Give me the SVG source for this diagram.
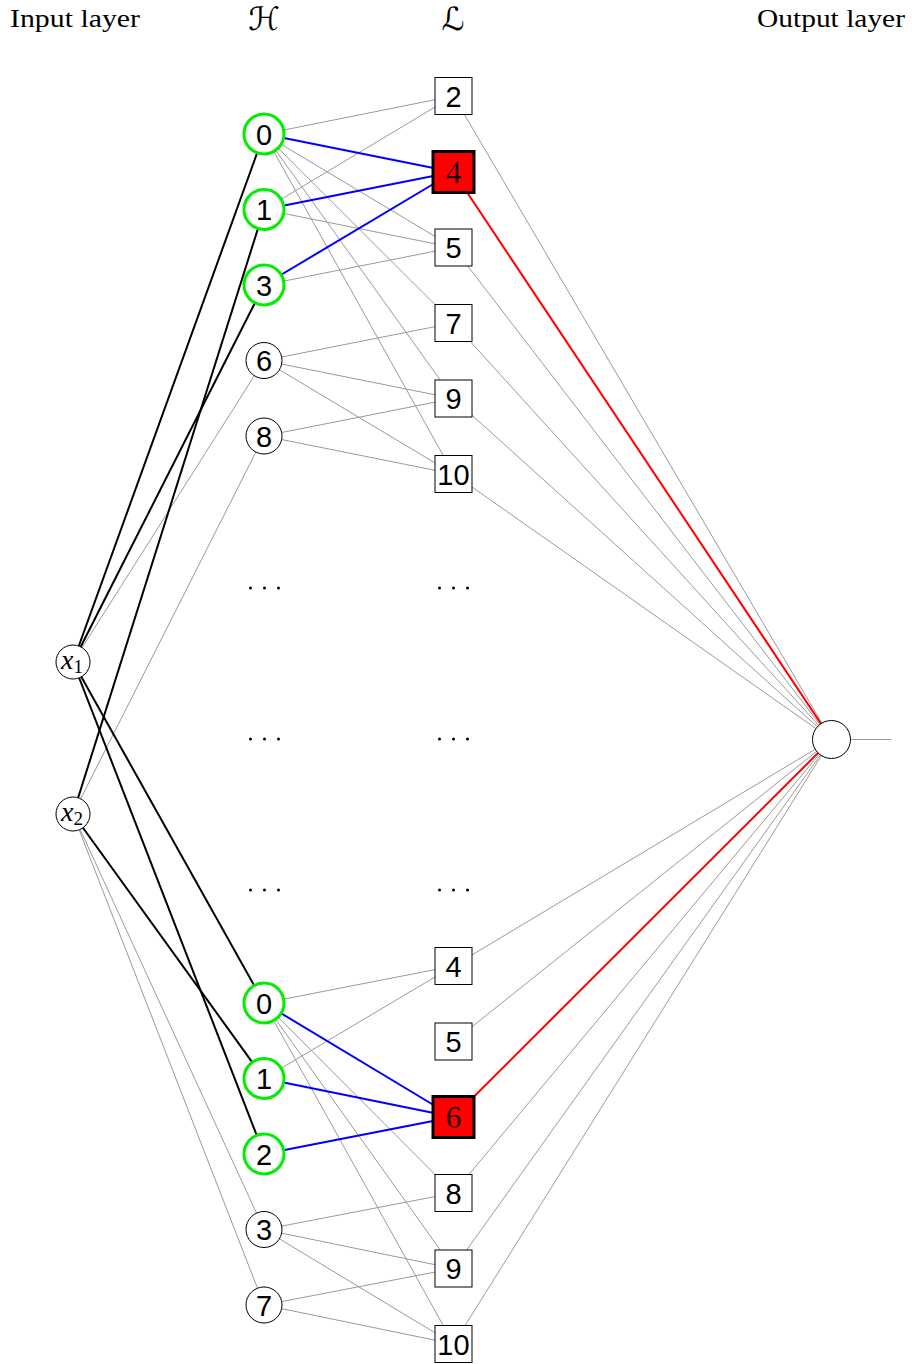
<svg xmlns="http://www.w3.org/2000/svg" width="912" height="1364" viewBox="0 0 912 1364">
<style>
.hdr{font-family:"Liberation Serif","DejaVu Serif",serif;font-size:25px;fill:#000}
.scr{font-family:"DejaVu Serif","DejaVu Sans",serif;font-style:italic;font-size:32px;fill:#000}
.g{stroke:#9a9a9a;stroke-width:1;fill:none}
.k{stroke:#000;stroke-width:2;fill:none}
.b{stroke:#0000ff;stroke-width:2;fill:none}
.r{stroke:#ff0000;stroke-width:2;fill:none}
.cn{fill:#fff;stroke:#000;stroke-width:1}
.cg{fill:#fff;stroke:#00ee00;stroke-width:3}
.bx{fill:#fff;stroke:#000;stroke-width:1}
.rb{fill:#ff0000;stroke:#000;stroke-width:3}
.lb{font-family:"Liberation Sans","DejaVu Sans",sans-serif;font-size:29px;fill:#000;text-anchor:middle}
.rl{font-family:"Liberation Serif","DejaVu Serif",serif;font-size:31px;fill:#200;text-anchor:middle}
.xl{font-family:"Liberation Serif","DejaVu Serif",serif;font-style:italic;font-size:28px;fill:#000;text-anchor:middle}
.dot{fill:#000}
</style>
<g id="headers">
<text class="hdr" x="10" y="27" textLength="130" lengthAdjust="spacingAndGlyphs">Input layer</text>
<text class="scr" x="264" y="30" text-anchor="middle">ℋ</text>
<text class="scr" x="453" y="30" text-anchor="middle">ℒ</text>
<text class="hdr" x="757" y="27" textLength="148" lengthAdjust="spacingAndGlyphs">Output layer</text>
</g>
<g id="connectors">
<line class="g" x1="73" y1="662" x2="264" y2="360.5"/>
<line class="g" x1="73" y1="814" x2="264" y2="436"/>
<line class="g" x1="73" y1="814" x2="264" y2="1229.5"/>
<line class="g" x1="73" y1="814" x2="264" y2="1305"/>
<line class="g" x1="264" y1="134" x2="453.5" y2="96"/>
<line class="g" x1="264" y1="134" x2="453.5" y2="247.5"/>
<line class="g" x1="264" y1="134" x2="453.5" y2="323"/>
<line class="g" x1="264" y1="134" x2="453.5" y2="398.5"/>
<line class="g" x1="264" y1="134" x2="453.5" y2="474"/>
<line class="g" x1="264" y1="209.5" x2="453.5" y2="96"/>
<line class="g" x1="264" y1="209.5" x2="453.5" y2="247.5"/>
<line class="g" x1="264" y1="285" x2="453.5" y2="247.5"/>
<line class="g" x1="264" y1="360.5" x2="453.5" y2="323"/>
<line class="g" x1="264" y1="360.5" x2="453.5" y2="398.5"/>
<line class="g" x1="264" y1="360.5" x2="453.5" y2="474"/>
<line class="g" x1="264" y1="436" x2="453.5" y2="398.5"/>
<line class="g" x1="264" y1="436" x2="453.5" y2="474"/>
<line class="g" x1="264" y1="1003" x2="453.5" y2="966"/>
<line class="g" x1="264" y1="1003" x2="453.5" y2="1193"/>
<line class="g" x1="264" y1="1003" x2="453.5" y2="1268.5"/>
<line class="g" x1="264" y1="1003" x2="453.5" y2="1344"/>
<line class="g" x1="264" y1="1078.5" x2="453.5" y2="966"/>
<line class="g" x1="264" y1="1229.5" x2="453.5" y2="1193"/>
<line class="g" x1="264" y1="1229.5" x2="453.5" y2="1268.5"/>
<line class="g" x1="264" y1="1229.5" x2="453.5" y2="1344"/>
<line class="g" x1="264" y1="1305" x2="453.5" y2="1268.5"/>
<line class="g" x1="264" y1="1305" x2="453.5" y2="1344"/>
<line class="g" x1="453.5" y1="96" x2="831.5" y2="739.5"/>
<line class="g" x1="453.5" y1="247.5" x2="831.5" y2="739.5"/>
<line class="g" x1="453.5" y1="323" x2="831.5" y2="739.5"/>
<line class="g" x1="453.5" y1="398.5" x2="831.5" y2="739.5"/>
<line class="g" x1="453.5" y1="474" x2="831.5" y2="739.5"/>
<line class="g" x1="453.5" y1="966" x2="831.5" y2="739.5"/>
<line class="g" x1="453.5" y1="1041.5" x2="831.5" y2="739.5"/>
<line class="g" x1="453.5" y1="1193" x2="831.5" y2="739.5"/>
<line class="g" x1="453.5" y1="1268.5" x2="831.5" y2="739.5"/>
<line class="g" x1="453.5" y1="1344" x2="831.5" y2="739.5"/>
<line class="g" x1="850.5" y1="739.5" x2="891.5" y2="739.5"/>
<line class="k" x1="73" y1="662" x2="264" y2="134"/>
<line class="k" x1="73" y1="662" x2="264" y2="285"/>
<line class="k" x1="73" y1="662" x2="264" y2="1003"/>
<line class="k" x1="73" y1="662" x2="264" y2="1154"/>
<line class="k" x1="73" y1="814" x2="264" y2="209.5"/>
<line class="k" x1="73" y1="814" x2="264" y2="1078.5"/>
<line class="b" x1="264" y1="134" x2="453.5" y2="172"/>
<line class="b" x1="264" y1="209.5" x2="453.5" y2="172"/>
<line class="b" x1="264" y1="285" x2="453.5" y2="172"/>
<line class="b" x1="264" y1="1003" x2="453.5" y2="1117"/>
<line class="b" x1="264" y1="1078.5" x2="453.5" y2="1117"/>
<line class="b" x1="264" y1="1154" x2="453.5" y2="1117"/>
<line class="r" x1="453.5" y1="172" x2="831.5" y2="739.5"/>
<line class="r" x1="453.5" y1="1117" x2="831.5" y2="739.5"/>
</g>
<g id="input-x1"><circle class="cn" cx="73" cy="662" r="17"/><text class="xl" x="72" y="669">x<tspan font-size="19" font-style="normal" dy="4">1</tspan></text></g>
<g id="input-x2"><circle class="cn" cx="73" cy="814" r="17"/><text class="xl" x="72" y="821">x<tspan font-size="19" font-style="normal" dy="4">2</tspan></text></g>
<g id="h-top-0"><circle class="cg" cx="264" cy="134" r="20"/><text class="lb" x="264" y="144.5">0</text></g>
<g id="h-top-1"><circle class="cg" cx="264" cy="209.5" r="20"/><text class="lb" x="264" y="220">1</text></g>
<g id="h-top-3"><circle class="cg" cx="264" cy="285" r="20"/><text class="lb" x="264" y="295.5">3</text></g>
<g id="h-top-6"><circle class="cn" cx="264" cy="360.5" r="18"/><text class="lb" x="264" y="371">6</text></g>
<g id="h-top-8"><circle class="cn" cx="264" cy="436" r="18"/><text class="lb" x="264" y="446.5">8</text></g>
<g id="h-bot-0"><circle class="cg" cx="264" cy="1003" r="20"/><text class="lb" x="264" y="1013.5">0</text></g>
<g id="h-bot-1"><circle class="cg" cx="264" cy="1078.5" r="20"/><text class="lb" x="264" y="1089">1</text></g>
<g id="h-bot-2"><circle class="cg" cx="264" cy="1154" r="20"/><text class="lb" x="264" y="1164.5">2</text></g>
<g id="h-bot-3"><circle class="cn" cx="264" cy="1229.5" r="18"/><text class="lb" x="264" y="1240">3</text></g>
<g id="h-bot-7"><circle class="cn" cx="264" cy="1305" r="18"/><text class="lb" x="264" y="1315.5">7</text></g>
<g id="l-top-2"><rect class="bx" x="435" y="77.5" width="37" height="37"/><text class="lb" x="453.5" y="106.5">2</text></g>
<g id="l-top-4"><rect class="rb" x="433" y="151.5" width="41" height="41"/><text class="rl" x="453.5" y="183">4</text></g>
<g id="l-top-5"><rect class="bx" x="435" y="229" width="37" height="37"/><text class="lb" x="453.5" y="258">5</text></g>
<g id="l-top-7"><rect class="bx" x="435" y="304.5" width="37" height="37"/><text class="lb" x="453.5" y="333.5">7</text></g>
<g id="l-top-9"><rect class="bx" x="435" y="380" width="37" height="37"/><text class="lb" x="453.5" y="409">9</text></g>
<g id="l-top-10"><rect class="bx" x="435" y="455.5" width="37" height="37"/><text class="lb" x="453.5" y="484.5">10</text></g>
<g id="l-bot-4"><rect class="bx" x="435" y="947.5" width="37" height="37"/><text class="lb" x="453.5" y="976.5">4</text></g>
<g id="l-bot-5"><rect class="bx" x="435" y="1023" width="37" height="37"/><text class="lb" x="453.5" y="1052">5</text></g>
<g id="l-bot-6"><rect class="rb" x="433" y="1096.5" width="41" height="41"/><text class="rl" x="453.5" y="1128">6</text></g>
<g id="l-bot-8"><rect class="bx" x="435" y="1174.5" width="37" height="37"/><text class="lb" x="453.5" y="1203.5">8</text></g>
<g id="l-bot-9"><rect class="bx" x="435" y="1250" width="37" height="37"/><text class="lb" x="453.5" y="1279">9</text></g>
<g id="l-bot-10"><rect class="bx" x="435" y="1325.5" width="37" height="37"/><text class="lb" x="453.5" y="1354.5">10</text></g>
<g id="output"><circle class="cn" cx="831.5" cy="739.5" r="19"/></g>
<g id="ellipses">
<circle class="dot" cx="250.5" cy="588" r="1.5"/><circle class="dot" cx="264.5" cy="588" r="1.5"/><circle class="dot" cx="278.5" cy="588" r="1.5"/>
<circle class="dot" cx="439.5" cy="588" r="1.5"/><circle class="dot" cx="453.5" cy="588" r="1.5"/><circle class="dot" cx="467.5" cy="588" r="1.5"/>
<circle class="dot" cx="250.5" cy="739" r="1.5"/><circle class="dot" cx="264.5" cy="739" r="1.5"/><circle class="dot" cx="278.5" cy="739" r="1.5"/>
<circle class="dot" cx="439.5" cy="739" r="1.5"/><circle class="dot" cx="453.5" cy="739" r="1.5"/><circle class="dot" cx="467.5" cy="739" r="1.5"/>
<circle class="dot" cx="250.5" cy="890" r="1.5"/><circle class="dot" cx="264.5" cy="890" r="1.5"/><circle class="dot" cx="278.5" cy="890" r="1.5"/>
<circle class="dot" cx="439.5" cy="890" r="1.5"/><circle class="dot" cx="453.5" cy="890" r="1.5"/><circle class="dot" cx="467.5" cy="890" r="1.5"/>
</g>
</svg>
